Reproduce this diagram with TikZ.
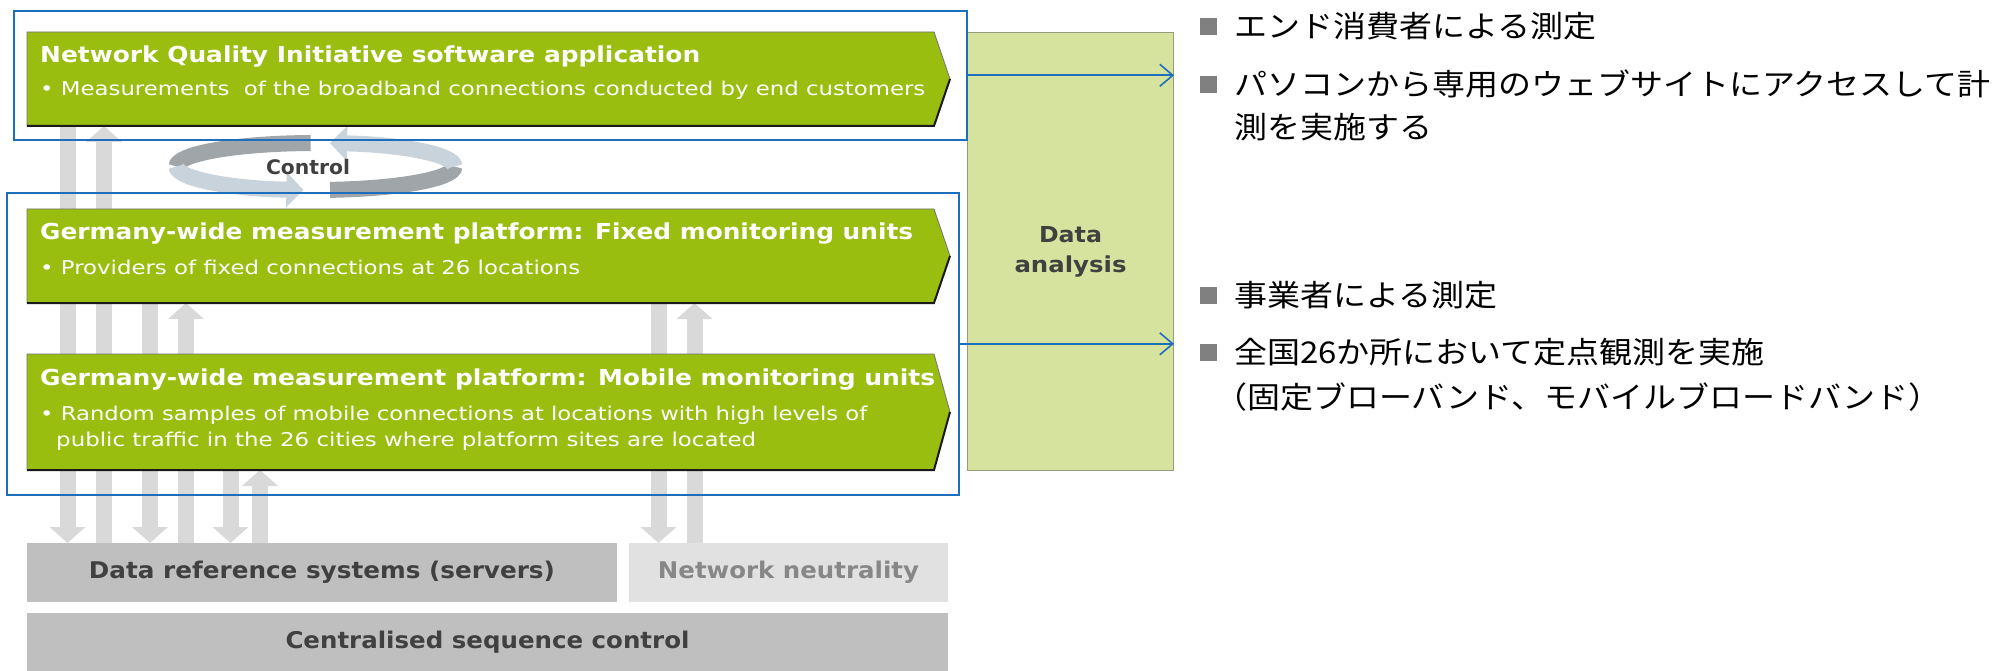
\documentclass[tikz,border=0pt]{standalone}
\usepackage{fontspec}
\setmainfont{DejaVu Sans}
\newfontfamily\jpfont{Noto Sans CJK JP}
\usepackage{graphicx}
\usetikzlibrary{arrows.meta}
\definecolor{nqgreen}{RGB}{153,190,16}
\definecolor{dagreen}{RGB}{214,227,158}
\definecolor{dagborder}{RGB}{150,155,120}
\definecolor{nqblue}{RGB}{30,110,190}
\definecolor{arrgray}{RGB}{217,217,217}
\definecolor{boxgray}{RGB}{191,191,191}
\definecolor{boxlight}{RGB}{225,225,225}
\definecolor{txtdark}{RGB}{64,64,64}
\definecolor{txtmid}{RGB}{135,135,135}
\definecolor{ctrldark}{RGB}{160,165,170}
\definecolor{ctrllight}{RGB}{200,211,219}
\definecolor{bulletgray}{RGB}{128,128,128}
\newcommand{\fitw}[2]{\resizebox{#1}{\height}{#2}}
\newcommand{\fsz}[1]{\fontsize{#1}{#1}\selectfont}
\newcommand{\greenshape}[1]{%
  \fill[nqgreen] (#1.north west) -- (#1.north east) -- ([xshift=16pt]#1.east) -- (#1.south east) -- (#1.south west) -- cycle;
  \draw[black!55, line width=0.8pt] (#1.north west) -- (#1.north east) -- ([xshift=16pt]#1.east) -- (#1.south east) -- (#1.south west) -- cycle;
  \draw[black!90, line width=2pt] (#1.south west) -- (#1.south east) -- ([xshift=16pt]#1.east);
}
\begin{document}
\begin{tikzpicture}[x=1pt,y=-1pt,
  grayarr/.style={draw=arrgray, line width=16pt, -{Triangle[length=16pt,width=35pt]}},
  bluebox/.style={draw=nqblue, line width=1.6pt, inner sep=0, anchor=north west},
  bluearr/.style={draw=nqblue, line width=1.6pt, -{Straight Barb[length=13pt,width=22pt]}},
  gbox/.style={inner sep=0, outer sep=0, anchor=north west, minimum width=907pt},
  gtitle/.style={inner sep=0, anchor=base west, text=white, font=\fsz{22}\bfseries},
  gsub/.style={inner sep=0, anchor=base west, text=white, font=\fsz{19}},
  botbox/.style={inner sep=0, outer sep=0, anchor=north west, font=\fsz{23}\bfseries},
  jp/.style={inner sep=0, anchor=base west, font=\jpfont\fsz{30}, text=black},
  bsq/.style={fill=bulletgray, minimum size=17pt, inner sep=0}
]
\useasboundingbox (0,0) rectangle (2013,671);
\fill[white] (0,0) rectangle (2013,671);

% box frames (anchors)
\node[gbox, minimum height=94pt] (g1) at (27,32) {};
\node[gbox, minimum height=94pt] (g2) at (27,209) {};
\node[gbox, minimum height=116pt] (g3) at (27,354) {};

% bottom boxes
\node[botbox, fill=boxgray, text=txtdark, minimum width=590pt, minimum height=59pt] (srv) at (27,543) {\fitw{466pt}{Data reference systems (servers)}};
\node[botbox, fill=boxlight, text=txtmid, minimum width=319pt, minimum height=59pt] (nn) at (629,543) {\fitw{261pt}{Network neutrality}};
\node[botbox, fill=boxgray, text=txtdark, minimum width=921pt, minimum height=58pt] (csc) at (27,613) {\fitw{404pt}{Centralised sequence control}};

% gray arrows
\coordinate (cA) at (67.5,0);
\coordinate (cB) at (104,0);
\coordinate (cC) at (150,0);
\coordinate (cD) at (186,0);
\coordinate (cE) at (230.5,0);
\coordinate (cF) at (260,0);
\coordinate (cG) at (658.5,0);
\coordinate (cH) at (694.5,0);
\draw[grayarr] (cA |- g1.south) -- (cA |- srv.north);
\draw[grayarr] (cB |- srv.north) -- (cB |- g1.south);
\draw[grayarr] (cC |- g2.south) -- (cC |- srv.north);
\draw[grayarr] (cD |- srv.north) -- (cD |- g2.south);
\draw[grayarr] (cE |- g3.south) -- (cE |- srv.north);
\draw[grayarr] (cF |- srv.north) -- (cF |- g3.south);
\draw[grayarr] (cG |- g2.south) -- (cG |- nn.north);
\draw[grayarr] (cH |- nn.north) -- (cH |- g2.south);

% control cycle
\coordinate (ctr) at (315.5,166.5);
\draw[ctrldark, line width=16pt] ([shift={(268:139 and 23.5)}]ctr) arc[start angle=268, end angle=180, x radius=139, y radius=23.5];
\draw[ctrllight, line width=16pt, -{Triangle[length=17pt,width=34pt]}] ([shift={(180:139 and 23.5)}]ctr) arc[start angle=180, end angle=95, x radius=139, y radius=23.5];
\draw[ctrldark, line width=16pt] ([shift={(84:139 and 23.5)}]ctr) arc[start angle=84, end angle=0, x radius=139, y radius=23.5];
\draw[ctrllight, line width=16pt, -{Triangle[length=17pt,width=34pt]}] ([shift={(0:139 and 23.5)}]ctr) arc[start angle=0, end angle=-84, x radius=139, y radius=23.5];
\node[font=\fsz{20}\bfseries, text=txtdark, inner sep=0] (ctl) at (308,167) {\fitw{84pt}{Control}};

% green boxes
\greenshape{g1}
\greenshape{g2}
\greenshape{g3}
\node[gtitle] (t1) at (40,63) {\fitw{660pt}{Network Quality Initiative software application}};
\node[gsub] (s1) at (40,96) {\fitw{885pt}{• Measurements\ \ of the broadband connections conducted by end customers}};
\node[gtitle] (t2) at (40,240) {\fitw{873pt}{Germany-wide measurement platform: Fixed monitoring units}};
\node[gsub] (s2) at (40,274) {\fitw{540pt}{• Providers of fixed connections at 26 locations}};
\node[gtitle] (t3) at (40,385) {\fitw{895pt}{Germany-wide measurement platform: Mobile monitoring units}};
\node[gsub] (s3) at (40,420) {\fitw{827pt}{• Random samples of mobile connections at locations with high levels of}};
\node[gsub] (s4) at (56,446) {\fitw{700pt}{public traffic in the 26 cities where platform sites are located}};

% data analysis
\node[draw=dagborder, fill=dagreen, line width=1pt, inner sep=0, anchor=north west,
      minimum width=206pt, minimum height=438pt, align=center, text=txtdark,
      font=\fontsize{22}{30}\selectfont\bfseries] (da) at (967,32) {\fitw{63pt}{Data}\\\fitw{112pt}{analysis}};

% blue frames and connectors
\node[bluebox, minimum width=953pt, minimum height=129pt] (blue1) at (13,10) {};
\node[bluebox, minimum width=952pt, minimum height=302pt] (blue2) at (6,192) {};
\draw[bluearr] (blue1.east) -- (blue1.east -| da.east);
\draw[bluearr] (blue2.east) -- (blue2.east -| da.east);

% Japanese notes
\node[bsq] (b1) at (1208,27) {};
\node[jp] (j1) at (1234,38) {\scalebox{1.1}[1]{エンド消費者による測定}};
\node[bsq] (b2) at (1208,85) {};
\node[jp] (j2) at (1234,96) {\scalebox{1.1}[1]{パソコンから専用のウェブサイトにアクセスして計}};
\node[jp] (j3) at (1234,139) {\scalebox{1.1}[1]{測を実施する}};
\node[bsq] (b3) at (1208,295) {};
\node[jp] (j4) at (1234,306) {\scalebox{1.1}[1]{事業者による測定}};
\node[bsq] (b4) at (1208,352) {};
\node[jp] (j5) at (1234,363) {\scalebox{1.1}[1]{全国26か所において定点観測を実施}};
\node[jp] (j6) at (1214,408) {\scalebox{1.1}[1]{（固定ブローバンド、モバイルブロードバンド）}};
\end{tikzpicture}
\end{document}
